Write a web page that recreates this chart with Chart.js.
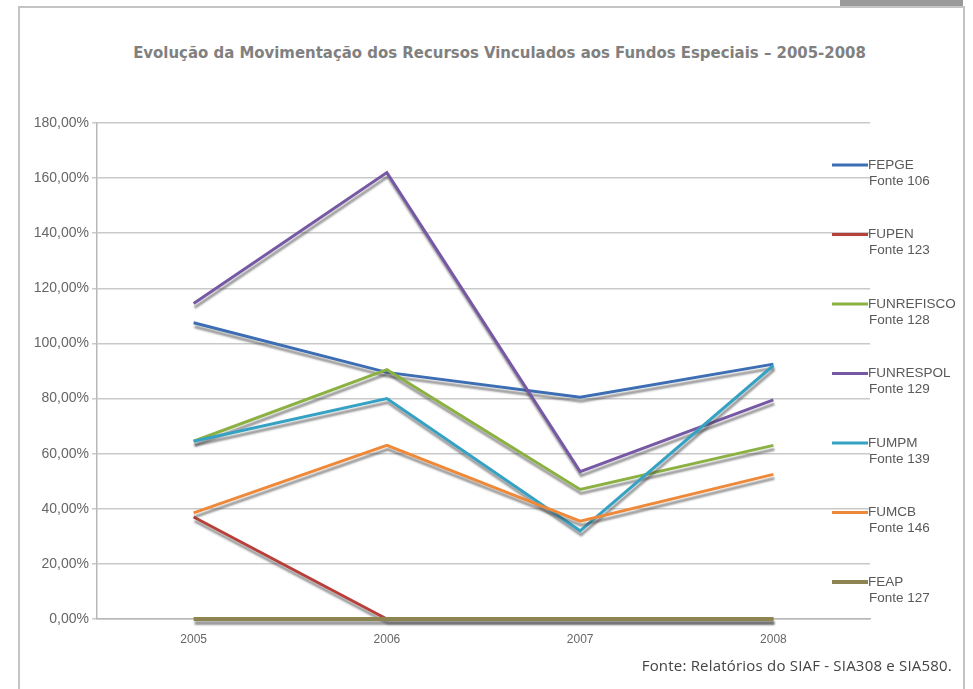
<!DOCTYPE html>
<html>
<head>
<meta charset="utf-8">
<script src="https://cdn.jsdelivr.net/npm/chart.js@4.4.1/dist/chart.umd.min.js"></script>
<style>
  html, body { margin: 0; padding: 0; background: #fff; }
  #page { position: relative; width: 973px; height: 689px; overflow: hidden; }
  #frame { position: absolute; left: 18px; top: 6px; width: 943px; height: 700px;
           border-left: 2px solid #c4c4c4; border-top: 2px solid #c4c4c4; border-right: 2px solid #c4c4c4; }
  #tab { position: absolute; left: 840px; top: 0; width: 123px; height: 6px; background: #9a9a9a; }
  #title { position: absolute; left: 28px; width: 943px; top: 43px; text-align: center;
           font: bold 16.6px "DejaVu Sans Condensed", "DejaVu Sans", sans-serif; color: #808080; }
  #source { position: absolute; right: 21px; top: 655px; letter-spacing: 0.2px;
            font: 15px "Open Sans", Roboto, sans-serif; color: #444; }
  canvas { position: absolute; left: 0; top: 0; }
</style>
</head>
<body>
<div id="page">
  <div id="frame"></div>
  <div id="tab"></div>
  <div id="title">Evolução da Movimentação dos Recursos Vinculados aos Fundos Especiais – 2005-2008</div>
  <canvas id="lineChart" width="973" height="689"></canvas>
  <div id="source">Fonte: Relatórios do SIAF - SIA308 e SIA580.</div>
</div>
<script>
// anos
const years = ['2005', '2006', '2007', '2008'];

// fundos e fontes
const funds = ['FEPGE', 'FUPEN', 'FUNREFISCO', 'FUNRESPOL', 'FUMPM', 'FUMCB', 'FEAP'];
const sources = ['Fonte 106', 'Fonte 123', 'Fonte 128', 'Fonte 129', 'Fonte 139', 'Fonte 146', 'Fonte 127'];
const colors = ['#3d6db3', '#b8403b', '#8bb142', '#7758a5', '#35a2c3', '#ef893a', '#8c8451'];

// valores em %
const fepge = [107.5, 89.5, 80.5, 92.5];
const fupen = [37, 0, 0, 0];
const funrefisco = [64.5, 90.5, 47, 63];
const funrespol = [114.5, 162, 53.5, 79.5];
const fumpm = [64.5, 80, 32, 92];
const fumcb = [38.5, 63, 35.5, 52.5];
const feap = [0, 0, 0, 0];
const series = [fepge, fupen, funrefisco, funrespol, fumpm, fumcb, feap];

// sombra cinza embaixo das linhas (estilo Excel)
const shadowPlugin = {
  id: 'shadow',
  beforeDatasetsDraw(chart) {
    const ctx = chart.ctx;
    ctx.save();
    ctx.shadowColor = 'rgba(70,70,70,0.55)';
    ctx.shadowOffsetX = 1;
    ctx.shadowOffsetY = 4;
    ctx.shadowBlur = 2;
  },
  afterDatasetsDraw(chart) {
    chart.ctx.restore();
  }
};

// legenda desenhada a direita, com duas linhas de texto
const sideLegend = {
  id: 'sideLegend',
  afterDraw(chart) {
    const ctx = chart.ctx;
    const area = chart.chartArea;
    ctx.save();
    chart.data.datasets.forEach((ds, i) => {
      const y = area.top + 42 + i * 69.5;
      const x0 = area.right - 38;
      ctx.strokeStyle = ds.borderColor;
      ctx.lineWidth = i === 6 ? 4 : 3;
      ctx.beginPath();
      ctx.moveTo(x0, y);
      ctx.lineTo(area.right - 2, y);
      ctx.stroke();
      ctx.fillStyle = '#595959';
      ctx.font = '13.5px "Liberation Sans", Arial, sans-serif';
      ctx.textBaseline = 'middle';
      ctx.textAlign = 'left';
      ctx.fillText(ds.label, area.right - 2, y);
      ctx.fillText(sources[i], area.right - 1, y + 16);
    });
    ctx.restore();
  }
};

const ctx = document.getElementById('lineChart').getContext('2d');
new Chart(ctx, {
  type: 'line',
  data: {
    labels: years,
    datasets: funds.map((name, i) => ({
      label: name,
      data: series[i],
      borderColor: colors[i],
      backgroundColor: colors[i],
      borderWidth: i === 6 ? 4 : 3,
      pointRadius: 0,
      tension: 0,
      clip: false,
      order: funds.length - i
    }))
  },
  options: {
    responsive: false,
    animation: false,
    layout: { padding: { left: 0, right: 103, top: 123, bottom: 40 } },
    plugins: {
      legend: { display: false },
      tooltip: { enabled: false }
    },
    scales: {
      x: {
        offset: true,
        grid: { display: false, drawTicks: true, offset: true },
        border: { color: '#b8b8b8', width: 1.5 },
        ticks: { color: '#666', font: { family: '"Liberation Sans", Arial', size: 12 }, padding: 5 },
        afterFit: s => { s.height = 30; }
      },
      y: {
        min: 0,
        max: 180,
        ticks: {
          stepSize: 20,
          color: '#666',
          font: { family: '"Liberation Sans", Arial', size: 14 },
          padding: 3,
          callback: v => v.toFixed(2).replace('.', ',') + '%'
        },
        grid: { color: '#c9c9c9', lineWidth: 1.5, tickLength: 5 },
        border: { color: '#b8b8b8', width: 1.5 },
        afterFit: s => { s.width = 97; }
      }
    }
  },
  plugins: [shadowPlugin, sideLegend]
});
</script>
</body>
</html>
